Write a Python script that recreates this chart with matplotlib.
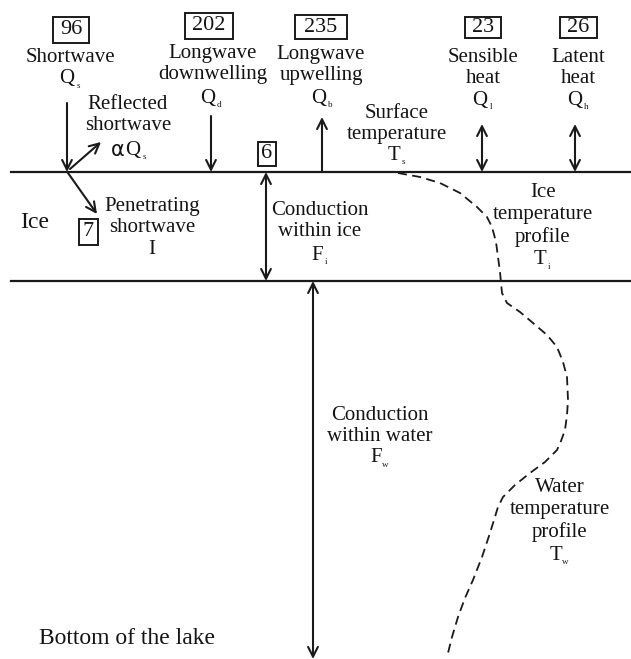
import matplotlib
matplotlib.use("Agg")
import matplotlib.pyplot as plt

plt.rcParams['font.family'] = ['Liberation Serif', 'DejaVu Serif']

# ---- data ----
flux_names = ["Shortwave", "Longwave\ndownwelling", "Longwave\nupwelling", "Sensible\nheat", "Latent\nheat"]
flux_symbols = [("Q", "s"), ("Q", "d"), ("Q", "b"), ("Q", "l"), ("Q", "h")]
flux_values = [96, 202, 235, 23, 26]
penetrating_value = 7
ice_conduction_value = 6

# temperature profile (diagram coordinates, px from top-left)
profile_x = [398, 420, 440, 460, 477, 487, 492, 496, 498, 500, 502, 507, 520, 533, 547, 557, 563, 567, 568, 567,
             565, 561, 557, 545, 530, 515, 503, 498, 494, 490, 482, 473, 465, 458, 452, 447]
profile_y = [173, 177, 183, 193, 207, 217, 227, 242, 257, 272, 293, 303, 312, 323, 335, 347, 362, 377, 400, 415,
             430, 441, 450, 462, 473, 485, 497, 507, 520, 533, 557, 580, 598, 617, 637, 657]

W, H = 631, 659
fig = plt.figure(figsize=(W / 100, H / 100), dpi=100)
ax = fig.add_axes([0, 0, 1, 1])
ax.set_xlim(0, W)
ax.set_ylim(H, 0)
ax.axis('off')

ICE_TOP, ICE_BOT = 172, 281
lc = '#1a1a1a'
tc = '#141414'
ax.plot([11, W], [ICE_TOP, ICE_TOP], color=lc, lw=1.6)
ax.plot([11, W], [ICE_BOT, ICE_BOT], color=lc, lw=1.6)

FS = 15
NFS = 16


def box(x, y, txt, w, h):
    ax.text(x, y, txt, ha='center', va='center', fontsize=NFS, color=tc)
    ax.add_patch(plt.Rectangle((x - w / 2, y - h / 2), w, h, fill=False, lw=1.4, ec=lc))


def arrow(x0, y0, x1, y1, style='->'):
    ax.annotate('', xy=(x1, y1), xytext=(x0, y0),
                arrowprops=dict(arrowstyle=style + ',head_length=0.7,head_width=0.35',
                                lw=1.5, color=lc, shrinkA=0, shrinkB=0))


def label(x, y, txt, fs=FS, ls=1.2):
    ax.text(x, y, txt, ha='center', va='center', fontsize=fs, linespacing=ls, color=tc)


def sym(x, y, main, sub):
    ax.text(x, y, main, ha='center', va='center', fontsize=FS, color=tc)
    w = {"Q": 7.5, "F": 6.0, "T": 6.0}[main]
    ax.text(x + w + 3.5, y + 7, sub, ha='center', va='center', fontsize=6.5, color=tc)


# boxes
box_pos = [(71, 30, 36, 26), (209, 26, 48, 26), (321, 27, 52, 24), (483, 27, 36, 21), (578, 27, 37, 21)]
for (bx, by, bw, bh), v in zip(box_pos, flux_values):
    box(bx, by, str(v), bw, bh)

# names
name_pos = [(70, 57), (213, 64), (321, 65), (483, 68), (578, 68)]
for (nx, ny), n in zip(name_pos, flux_names):
    label(nx, ny, n)
sym_pos = [(67, 79), (208, 98), (319, 98), (480, 100), (575, 100)]
for (sx, sy), (m, s) in zip(sym_pos, flux_symbols):
    sym(sx, sy, m, s)

# arrows at the surface
arrow(67, 103, 67, ICE_TOP)           # shortwave
arrow(211, 116, 211, ICE_TOP)         # longwave down
arrow(322, ICE_TOP, 322, 117)         # longwave up
arrow(482, 124, 482, ICE_TOP, '<->')  # sensible
arrow(575, 124, 575, ICE_TOP, '<->')  # latent
arrow(70, 169, 101, 142)              # reflected
arrow(68, 173, 97, 214)               # penetrating
arrow(266, ICE_TOP, 266, ICE_BOT, '<->')  # conduction in ice
arrow(313, ICE_BOT, 313, 659, '<->')      # conduction in water

label(128, 115, "Reflected\nshortwave")
ax.text(118, 150, "α", ha='center', va='center', fontsize=FS, color=tc, family='DejaVu Sans')
sym(133, 150, "Q", "s")
box(88, 232, str(penetrating_value), 19, 26)
box(267, 154, str(ice_conduction_value), 18, 24)
label(152, 228, "Penetrating\nshortwave\nI")
ax.text(20, 223, "Ice", ha='left', va='center', fontsize=17, color=tc)
label(320, 221, "Conduction\nwithin ice")
sym(317, 255, "F", "i")
label(397, 124, "Surface\ntemperature")
sym(394, 155, "T", "s")
label(543, 215, "Ice\ntemperature\nprofile")
sym(540, 260, "T", "i")
label(380, 426, "Conduction\nwithin water")
sym(376, 458, "F", "w")
label(560, 510, "Water\ntemperature\nprofile")
sym(556, 555, "T", "w")
ax.text(39, 638, "Bottom of the lake", ha='left', va='center', fontsize=17, color=tc)

ax.plot(profile_x, profile_y, color=lc, lw=1.3, dashes=(5, 3))

fig.savefig("out.png", dpi=100)
